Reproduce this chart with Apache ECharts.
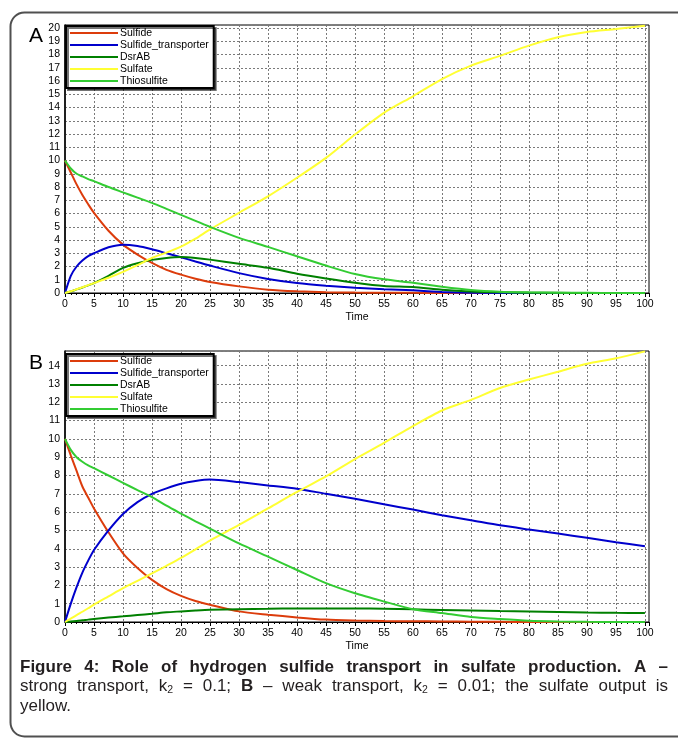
<!DOCTYPE html>
<html><head><meta charset="utf-8">
<script src="https://cdn.jsdelivr.net/npm/echarts@6/dist/echarts.min.js"></script>
<style>html,body{margin:0;padding:0;background:#fff}#c{width:678px;height:742px}</style>
</head><body><div id="c"></div><script>
// ---- data ----
const times = [0,1,2,3,4,5,7.5,10,12.5,15,17.5,20,22.5,25,30,35,40,45,50,55,60,65,70,75,80,85,90,95,100];
const seriesNames = ['Sulfide','Sulfide_transporter','DsrAB','Sulfate','Thiosulfite'];

const aSulfide     = [10,9.1,8.2,7.4,6.7,6.05,4.7,3.65,2.9,2.27,1.75,1.39,1.08,0.83,0.5,0.25,0.13,0.06,0.03,0.02,0.01,0,0,0,0,0,0,0,0];
const aTransporter = [0,1.3,2.0,2.45,2.78,3.0,3.45,3.65,3.55,3.3,3.0,2.7,2.38,2.07,1.5,1.06,0.75,0.55,0.4,0.28,0.2,0.08,0.01,0,0,0,0,0,0];
const aDsrAB       = [0,0.12,0.27,0.42,0.58,0.75,1.3,1.9,2.25,2.5,2.65,2.72,2.65,2.52,2.2,1.9,1.46,1.1,0.78,0.53,0.45,0.24,0.11,0.05,0.02,0.01,0,0,0];
const aSulfate     = [0,0.13,0.28,0.43,0.59,0.75,1.15,1.6,2.1,2.65,3.05,3.5,4.1,4.8,6.05,7.3,8.7,10.2,11.96,13.6,14.85,16.15,17.16,17.9,18.67,19.3,19.7,19.92,20.17];
const aThio        = [10,9.4,9.0,8.8,8.6,8.44,8.0,7.6,7.2,6.8,6.35,5.9,5.45,4.99,4.16,3.48,2.77,2.07,1.43,1.03,0.78,0.48,0.23,0.1,0.05,0.02,0.01,0,0];

const bSulfide     = [10,9.1,8.25,7.4,6.8,6.2,4.9,3.75,2.95,2.3,1.8,1.43,1.15,0.94,0.58,0.4,0.25,0.13,0.08,0.05,0.04,0.03,0.02,0.01,0,0,0,0,0];
const bTransporter = [0,1.0,1.9,2.7,3.35,3.93,5.0,5.9,6.55,7.0,7.3,7.55,7.7,7.78,7.64,7.46,7.28,7.0,6.73,6.43,6.14,5.83,5.56,5.28,5.05,4.83,4.6,4.36,4.14];
const bDsrAB       = [0,0.03,0.06,0.09,0.13,0.16,0.24,0.31,0.38,0.45,0.53,0.58,0.63,0.67,0.7,0.72,0.74,0.74,0.74,0.72,0.69,0.66,0.63,0.6,0.58,0.55,0.52,0.5,0.49];
const bSulfate     = [0,0.19,0.38,0.56,0.75,0.95,1.4,1.85,2.25,2.65,3.07,3.5,3.97,4.45,5.3,6.2,7.1,7.95,8.9,9.78,10.7,11.55,12.13,12.78,13.24,13.67,14.1,14.4,14.78];
const bThio        = [10,9.4,9.0,8.75,8.55,8.4,8.0,7.6,7.2,6.82,6.35,5.92,5.5,5.1,4.29,3.57,2.84,2.12,1.57,1.12,0.7,0.49,0.27,0.16,0.07,0.03,0.01,0,0];

const panelLabels = ['A','B'];
const axisNameX = 'Time';
const captionLines = [
  {justify:true, bold:true, text:'Figure 4: Role of hydrogen sulfide transport in sulfate production. A –'},
  {justify:true, bold:false, text:'strong transport, k_{2} = 0.1; *B* – weak transport, k_{2} = 0.01; the sulfate output is'},
  {justify:false, bold:false, text:'yellow.'}
];

// ---- styles ----
const colors = ['#dc3c0c','#0000cc','#008000','#ffff33','#33cc33'];
const SANS = "'Liberation Sans',Arial,sans-serif";
const AX_SIZE = 10.5;

const panels = [
  {data:[aSulfide,aTransporter,aDsrAB,aSulfate,aThio], top:25, height:268, ymax:20.23, legendTop:26, labelY:36},
  {data:[bSulfide,bTransporter,bDsrAB,bSulfate,bThio], top:351, height:271, ymax:14.8, legendTop:354, labelY:363}
];

const grid=[], xAxis=[], yAxis=[], series=[], legend=[];
panels.forEach((p,i)=>{
  grid.push({left:65, right:29, top:p.top, height:p.height, show:true, borderColor:'#000', borderWidth:1, backgroundColor:'#fff'});
  xAxis.push({type:'value', gridIndex:i, min:0, max:100.7, interval:5,
    name:axisNameX, nameLocation:'middle', nameGap:19,
    nameTextStyle:{fontFamily:SANS, fontSize:AX_SIZE, color:'#000'},
    axisLine:{onZero:false, lineStyle:{color:'#000', width:1}},
    axisTick:{show:true, length:4, lineStyle:{color:'#000'}},
    minorTick:{show:true, splitNumber:5, length:2, lineStyle:{color:'#000'}},
    axisLabel:{margin:6, fontFamily:SANS, fontSize:AX_SIZE, color:'#000',
      formatter:v=> (Math.abs(v/5-Math.round(v/5))<1e-6 ? String(Math.round(v)) : '')},
    splitLine:{show:true, lineStyle:{color:'#7a7a7a', type:[2,2], width:1}}
  });
  yAxis.push({type:'value', gridIndex:i, min:0, max:p.ymax, interval:1,
    axisLine:{show:true, onZero:false, lineStyle:{color:'#000', width:1.5}},
    axisTick:{show:false},
    axisLabel:{margin:5, fontFamily:SANS, fontSize:AX_SIZE, color:'#000',
      formatter:v=> (Math.abs(v-Math.round(v))<1e-6 ? String(Math.round(v)) : '')},
    splitLine:{show:true, lineStyle:{color:'#7a7a7a', type:[2,2], width:1}}
  });
  seriesNames.forEach((n,k)=>{
    series.push({type:'line', name:n, xAxisIndex:i, yAxisIndex:i,
      data: times.map((t,j)=>[t, p.data[k][j]]),
      showSymbol:false, smooth:0.25, color:colors[k],
      lineStyle:{width:2, color:colors[k]}, animation:false, z:2+k});
  });
  legend.push({orient:'vertical', left:66, top:p.legendTop, itemWidth:48, itemHeight:2, itemGap:0,
    icon:'rect', data:seriesNames, padding:[1,5,1,4],
    backgroundColor:'#fff', borderColor:'#000', borderWidth:2,
    shadowColor:'rgba(0,0,0,0.55)', shadowOffsetX:2, shadowOffsetY:2, shadowBlur:0,
    textStyle:{fontFamily:SANS, fontSize:AX_SIZE, lineHeight:12, color:'#000', padding:[0,0,0,-3]},
    selectedMode:false, z:10});
});

// ---- caption with justification ----
const cv = document.createElement('canvas').getContext('2d');
const CAP_SIZE = 17, SUB_SIZE = 10.5;
function parseWord(w, bold){
  const runs=[]; const re=/(_\{[^}]*\})|(\*[^*]*\*)|([^_*]+)/g; let m;
  while((m=re.exec(w))){
    if(m[1]) runs.push({t:m[1].slice(2,-1), b:bold, sub:true});
    else if(m[2]) runs.push({t:m[2].slice(1,-1), b:true, sub:false});
    else runs.push({t:m[3], b:bold, sub:false});
  }
  return runs;
}
function fontOf(r){ return (r.b?'bold ':'')+(r.sub?SUB_SIZE:CAP_SIZE)+'px '+SANS; }
function widthOf(r){ cv.font=fontOf(r); return cv.measureText(r.t).width; }
const graphics=[];
graphics.push({type:'rect', shape:{x:10.5, y:12.5, width:690, height:724, r:14},
  style:{fill:'none', stroke:'#505050', lineWidth:2}, z:0, silent:true});
panels.forEach((p,i)=>{
  graphics.push({type:'text', x:29, y:p.labelY, style:{text:panelLabels[i], font:'21px '+SANS, fill:'#000', verticalAlign:'middle'}, z:20});
});
const capLeft=20, capRight=668, capY=[667,686.5,706];
captionLines.forEach((ln,li)=>{
  const words = ln.text.split(' ').map(w=>parseWord(w, ln.bold));
  const ww = words.map(rs=>rs.reduce((s,r)=>s+widthOf(r),0));
  const total = ww.reduce((a,b)=>a+b,0);
  let gap;
  if(ln.justify && words.length>1) gap=(capRight-capLeft-total)/(words.length-1);
  else { cv.font=fontOf({b:ln.bold,sub:false}); gap=cv.measureText(' ').width; }
  let x=capLeft;
  words.forEach((rs,wi)=>{
    rs.forEach(r=>{
      graphics.push({type:'text', x:x, y:capY[li]+(r.sub?4:0),
        style:{text:r.t, font:fontOf(r), fill:'#231f20', verticalAlign:'middle'}, z:20, silent:true});
      x+=widthOf(r);
    });
    x+=gap;
  });
});

const chart = echarts.init(document.getElementById('c'), null, {renderer:'canvas'});
chart.setOption({animation:false, backgroundColor:'#fff', grid, xAxis, yAxis, series, legend, graphic:graphics});
</script></body></html>
